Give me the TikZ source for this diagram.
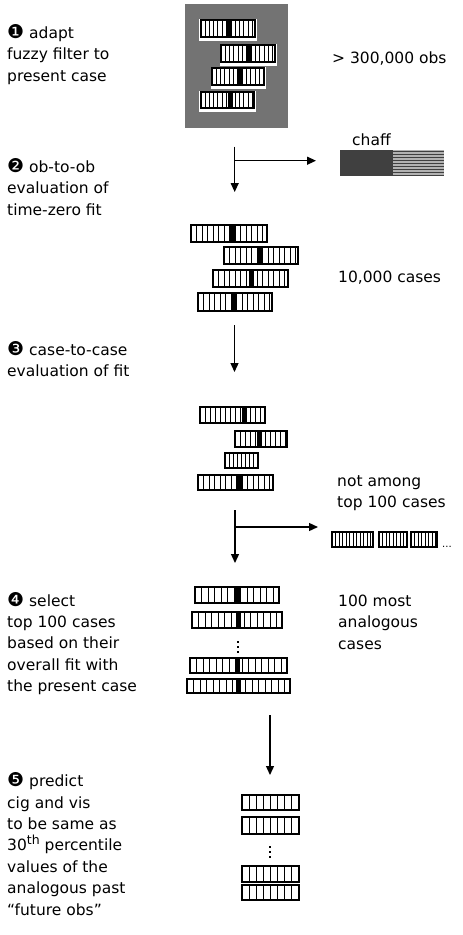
\documentclass[tikz,border=0pt]{standalone}
\usepackage{fontspec}
\setmainfont{DejaVu Sans}
\usetikzlibrary{arrows.meta}
\tikzset{
  lbl/.style={anchor=base west, inner sep=0pt, align=left, font=\fontsize{15.5}{21.4}\selectfont},
  arr/.style={line width=1.3pt, -{Triangle[length=9pt,width=8pt]}},
  dotmark/.style={fill=black},
}
\newcommand\stepnum[1]{{\fontsize{19}{19}\selectfont #1}}
\newcommand\cbar[6]{% x1 y1 x2 y2 step blackx
  \fill[white] (#1,#2) rectangle (#3,#4);
  \begin{scope}
    \clip (#1,#2) rectangle (#3,#4);
    \foreach \i in {1,...,25} \draw[line width=0.9pt] ({#1+\i*#5},#2) -- ({#1+\i*#5},#4);
    \fill ({#6},#2) rectangle ({#6+5},#4);
  \end{scope}
  \draw[line width=1.6pt] (#1,#2) rectangle (#3,#4);
}
\newcommand\wbar[6]{% bar on the stippled background, with white surround
  \fill[white] ({#1-1.5},{#2-1.5}) rectangle ({#3+1.5},{#4+3.5});
  \cbar{#1}{#2}{#3}{#4}{#5}{#6}
}
\begin{document}
\begin{tikzpicture}[x=1pt,y=-1pt]
\useasboundingbox (0,0) rectangle (463,935);

% ---------- left texts (anchor = baseline of the last line) ----------
\node[lbl] (t1) at (7,81) {\stepnum{❶} adapt\\fuzzy filter to\\present case};
\node[lbl] (t2) at (7,215) {\stepnum{❷} ob-to-ob\\evaluation of\\time-zero fit};
\node[lbl] (t3) at (7,376.7) {\stepnum{❸} case-to-case\\evaluation of fit};
\node[lbl] (t4) at (7,691.7) {\stepnum{❹} select\\top 100 cases\\based on their\\overall fit with\\the present case};
\node[lbl] (t5) at (7,915) {\stepnum{❺} predict\\cig and vis\\to be same as\\30\raisebox{0.42em}{\fontsize{12.5}{12.5}\selectfont th} percentile\\values of the\\analogous past\\“future obs”};

% ---------- right texts ----------
\node[lbl] (r1) at (332,63.3) {> 300,000 obs};
\node[lbl] (r2) at (352,145) {chaff};
\node[lbl] (r3) at (338,282.5) {10,000 cases};
\node[lbl] (r4) at (337,507.8) {not among\\top 100 cases};
\node[lbl] (r5) at (338,649) {100 most\\analogous\\cases};

% ---------- stippled box with all obs ----------
\fill[black!55] (185,4) rectangle (288,128);
\wbar{200.7}{20}{255}{37}{4.3}{227}
\wbar{221}{45}{275}{62}{4.3}{247}
\wbar{212}{68}{264}{85}{4.3}{237}
\wbar{200.7}{92}{254}{108}{4.3}{228}

% ---------- chaff ----------
\fill[black!75] (340,150) rectangle (393,176);
\fill[black!30] (393,150) rectangle (444,176);
\foreach \yy in {151,154,...,175} \draw[black!75, line width=0.8pt] (393,\yy) -- (444,\yy);

% ---------- arrow 1 ----------
\coordinate (a1s) at (234.7,146.5);
\coordinate (a1e) at (234.7,192);
\coordinate (a1b) at (234.7,160.7);
\coordinate (a1h) at (316,160.7);
\draw[arr] (a1s) -- (a1e);
\draw[arr] (a1b) -- (a1h);

% ---------- 10,000 cases ----------
\cbar{191}{225}{267}{242}{5.5}{230}
\cbar{224}{247}{298}{264}{5.5}{257}
\cbar{213}{270}{288}{287}{5.5}{249}
\cbar{198}{293}{272}{311}{5.5}{232}

% ---------- arrow 2 ----------
\coordinate (a2s) at (234.5,325);
\coordinate (a2e) at (234.5,372);
\draw[arr] (a2s) -- (a2e);

% ---------- case-to-case ----------
\cbar{200}{407}{265}{423}{5}{242}
\cbar{235}{431}{287}{447}{5}{257}
\cbar{225}{453}{258}{468}{4}{-100}
\cbar{198}{475}{273}{490}{5.5}{237}

% ---------- arrow 3 ----------
\coordinate (a3s) at (235,510);
\coordinate (a3e) at (235,563);
\coordinate (a3b) at (235,527);
\coordinate (a3h) at (318,527);
\draw[arr] (a3s) -- (a3e);
\draw[arr] (a3b) -- (a3h);

% rejected cases
\cbar{332}{532}{373}{547}{3.5}{-100}
\cbar{379}{532}{407}{547}{3.5}{-100}
\cbar{411}{532}{437}{547}{3.5}{-100}
\node[anchor=base west, inner sep=0pt, font=\fontsize{10}{10}\selectfont] (etc) at (442,547) {...};

% ---------- top 100 ----------
\cbar{195}{587}{279}{603}{6.5}{235}
\cbar{192}{612}{282}{628}{6.5}{236}
\foreach \yy in {641,646,651} \fill[dotmark] (237,\yy) rectangle ++(2,2);
\cbar{190}{658}{287}{673}{6.5}{235}
\cbar{187}{679}{290}{693}{6.5}{236}

% ---------- arrow 4 ----------
\coordinate (a4s) at (270,715);
\coordinate (a4e) at (270,775);
\draw[arr] (a4s) -- (a4e);

% ---------- predicted ----------
\cbar{242}{795}{299}{810}{7}{-100}
\cbar{242}{817}{299}{834}{7}{-100}
\foreach \yy in {846,851,856} \fill[dotmark] (269,\yy) rectangle ++(2,2);
\cbar{242}{866}{299}{882}{7}{-100}
\cbar{242}{885}{299}{900}{7}{-100}
\end{tikzpicture}
\end{document}
